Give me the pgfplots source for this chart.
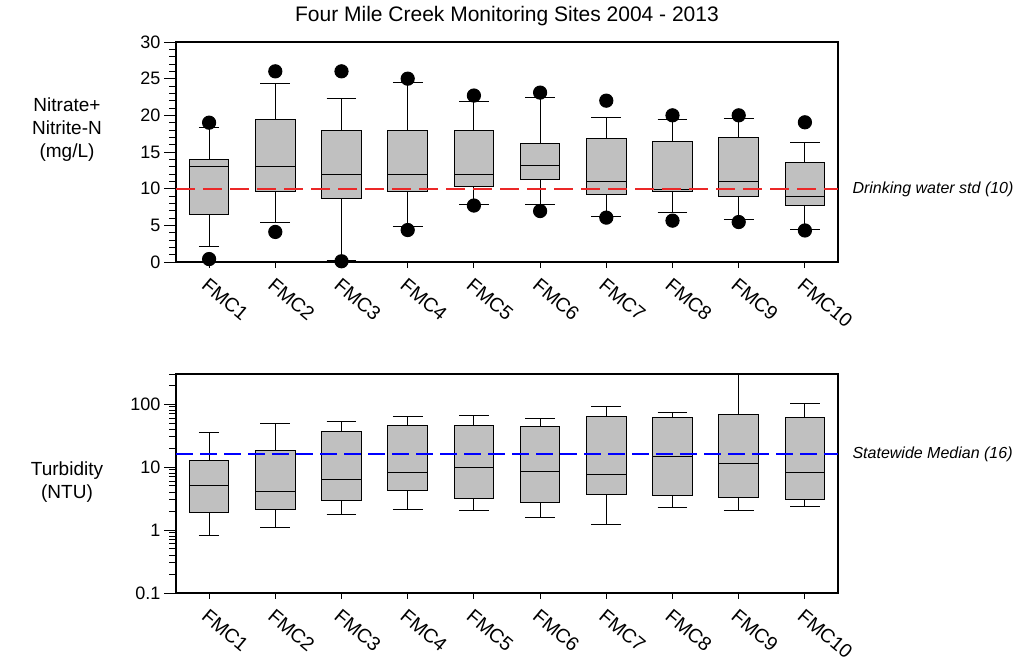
\documentclass[border=0pt]{standalone}
\usepackage{pgfplots}
\pgfplotsset{compat=1.18}
\usepgfplotslibrary{statistics}
\usepackage{fontspec}
\setmainfont{Liberation Sans}
\definecolor{boxgray}{RGB}{192,192,192}
\definecolor{refred}{RGB}{235,40,40}
\definecolor{refblue}{RGB}{0,0,255}
\begin{document}
\begin{tikzpicture}[x=1pt,y=1pt]
\path[use as bounding box] (0,0) rectangle (1020,-663);
\pgfplotsset{
  fmcaxis/.style={
    scale only axis, width=662pt, xmin=0.5, xmax=10.5,
    xtick={1,2,3,4,5,6,7,8,9,10},
    xticklabels={FMC1,FMC2,FMC3,FMC4,FMC5,FMC6,FMC7,FMC8,FMC9,FMC10},
    tick pos=left, tick align=outside,
    major tick length=12pt, minor tick length=7pt,
    xtick style={/pgfplots/major tick length=6pt},
    axis line style={line width=1.1pt},
    every tick/.style={black, line width=1pt},
    yticklabel style={font=\fontsize{18}{21}\selectfont},
    xticklabel style={rotate=-40, anchor=north west, font=\fontsize{19.5}{23}\selectfont, inner sep=2pt},
    boxplot/draw direction=y,
    boxplot/box extend=0.6,
    boxplot/whisker extend=0.45,
  },
  fmcbox/.style={draw=black, line width=1pt, fill=boxgray, solid, mark=*, mark size=6.6pt, mark options={fill=black, draw=black}},
}
% ---------------- Top panel: Nitrate+Nitrite-N ----------------
\begin{axis}[fmcaxis, at={(176pt,-262pt)}, anchor=south west, height=220pt,
  ymin=0, ymax=30, ytick={0,5,10,15,20,25,30}, yticklabels={0,5,10,15,20,25,30},
  minor y tick num=4]
\addplot[fmcbox, boxplot prepared={draw position=1, lower whisker=2.05, lower quartile=6.5, median=13.0, upper quartile=14.0, upper whisker=18.4, whisker extend=0.31}] coordinates {(1,19.0) (1,0.4)};
\addplot[fmcbox, boxplot prepared={draw position=2, lower whisker=5.37, lower quartile=9.55, median=13.0, upper quartile=19.45, upper whisker=24.3}] coordinates {(2,26.0) (2,4.1)};
\addplot[fmcbox, boxplot prepared={draw position=3, lower whisker=0.27, lower quartile=8.64, median=11.95, upper quartile=17.95, upper whisker=22.3}] coordinates {(3,26.0) (3,0.1)};
\addplot[fmcbox, boxplot prepared={draw position=4, lower whisker=4.8, lower quartile=9.64, median=11.95, upper quartile=17.95, upper whisker=24.5}] coordinates {(4,25.0) (4,4.36)};
\addplot[fmcbox, boxplot prepared={draw position=5, lower whisker=7.9, lower quartile=10.36, median=11.95, upper quartile=17.95, upper whisker=21.95}] coordinates {(5,22.7) (5,7.7)};
\addplot[fmcbox, boxplot prepared={draw position=6, lower whisker=7.8, lower quartile=11.27, median=13.2, upper quartile=16.2, upper whisker=22.45}] coordinates {(6,23.1) (6,6.95)};
\addplot[fmcbox, boxplot prepared={draw position=7, lower whisker=6.2, lower quartile=9.18, median=10.95, upper quartile=16.8, upper whisker=19.7}] coordinates {(7,22.0) (7,6.05)};
\addplot[fmcbox, boxplot prepared={draw position=8, lower whisker=6.8, lower quartile=9.6, median=9.95, upper quartile=16.45, upper whisker=19.4}] coordinates {(8,20.0) (8,5.64)};
\addplot[fmcbox, boxplot prepared={draw position=9, lower whisker=5.77, lower quartile=8.95, median=10.95, upper quartile=16.95, upper whisker=19.6}] coordinates {(9,20.0) (9,5.45)};
\addplot[fmcbox, boxplot prepared={draw position=10, lower whisker=4.5, lower quartile=7.68, median=9.0, upper quartile=13.6, upper whisker=16.3}] coordinates {(10,19.05) (10,4.3)};
\addplot[refred, line width=2pt, dash pattern=on 19pt off 8pt, mark=none] coordinates {(0.5,10) (10.5,10)};
\end{axis}
% ---------------- Bottom panel: Turbidity ----------------
\begin{axis}[fmcaxis, at={(176pt,-593pt)}, anchor=south west, height=219pt,
  ymode=log, ymin=0.1, ymax=300,
  ytick={0.1,1,10,100}, yticklabels={0.1,1,10,100},
  minor ytick={0.2,0.3,0.4,0.5,0.6,0.7,0.8,0.9,2,3,4,5,6,7,8,9,20,30,40,50,60,70,80,90,200,300}]
\addplot[fmcbox, boxplot prepared={draw position=1, lower whisker=0.83, lower quartile=1.91, median=5.1, upper quartile=12.9, upper whisker=36, whisker extend=0.31}] coordinates {};
\addplot[fmcbox, boxplot prepared={draw position=2, lower whisker=1.09, lower quartile=2.1, median=4.1, upper quartile=18.4, upper whisker=48.6}] coordinates {};
\addplot[fmcbox, boxplot prepared={draw position=3, lower whisker=1.78, lower quartile=2.96, median=6.3, upper quartile=37.3, upper whisker=53.7}] coordinates {};
\addplot[fmcbox, boxplot prepared={draw position=4, lower whisker=2.1, lower quartile=4.3, median=8.2, upper quartile=45.3, upper whisker=63}] coordinates {};
\addplot[fmcbox, boxplot prepared={draw position=5, lower whisker=2.03, lower quartile=3.14, median=9.9, upper quartile=45.3, upper whisker=65}] coordinates {};
\addplot[fmcbox, boxplot prepared={draw position=6, lower whisker=1.59, lower quartile=2.71, median=8.55, upper quartile=44.3, upper whisker=60}] coordinates {};
\addplot[fmcbox, boxplot prepared={draw position=7, lower whisker=1.23, lower quartile=3.6, median=7.74, upper quartile=63.8, upper whisker=90.5}] coordinates {};
\addplot[fmcbox, boxplot prepared={draw position=8, lower whisker=2.29, lower quartile=3.5, median=14.8, upper quartile=62.2, upper whisker=72.8}] coordinates {};
\addplot[fmcbox, boxplot prepared={draw position=9, lower whisker=2.07, lower quartile=3.34, median=11.5, upper quartile=67.6, upper whisker=290}] coordinates {};
\addplot[fmcbox, boxplot prepared={draw position=10, lower whisker=2.38, lower quartile=3.1, median=8.2, upper quartile=62.2, upper whisker=101}] coordinates {};
\addplot[refblue, line width=2pt, dash pattern=on 17pt off 7pt, mark=none] coordinates {(0.5,16) (10.5,16)};
\end{axis}
% ---------------- Texts ----------------
\node[font=\fontsize{21}{25}\selectfont] at (507,-16) {Four Mile Creek Monitoring Sites 2004 - 2013};
\node[align=center, font=\fontsize{19}{23}\selectfont] at (67,-130) {Nitrate+\\Nitrite-N\\(mg/L)};
\node[align=center, font=\fontsize{19}{23}\selectfont] at (67,-482) {Turbidity\\(NTU)};
\node[anchor=west, font=\fontsize{16}{19}\selectfont\itshape] at (849,-189) {Drinking water std (10)};
\node[anchor=west, font=\fontsize{16}{19}\selectfont\itshape] at (849,-454) {Statewide Median (16)};
\end{tikzpicture}
\end{document}
